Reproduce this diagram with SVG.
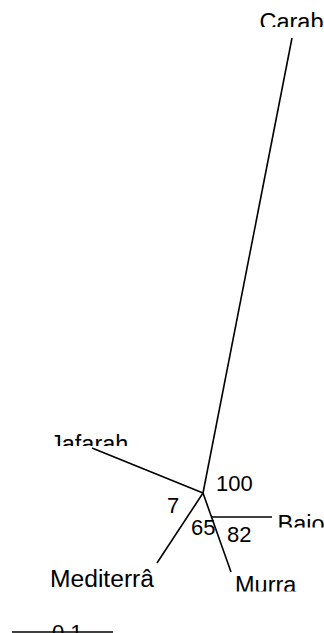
<svg xmlns="http://www.w3.org/2000/svg" width="324" height="633" viewBox="0 0 324 633">
<style>
.e{stroke:#000;stroke-width:1.6;fill:none;stroke-linecap:butt}
text{font-family:"Liberation Sans",Arial,sans-serif;font-size:22px;fill:#000}
.lbl{font-size:23.5px}
</style>
<defs>
<clipPath id="cCarab"><rect x="0" y="0" width="324" height="27"/></clipPath>
<clipPath id="cJaf"><rect x="0" y="420" width="324" height="26"/></clipPath>
<clipPath id="cBaio"><rect x="0" y="500" width="324" height="27.5"/></clipPath>
<clipPath id="cMurra"><rect x="0" y="560" width="324" height="31.5"/></clipPath>
</defs>
<rect width="324" height="633" fill="#fff"/>
<g id="connectors">
<line class="e" x1="292" y1="38" x2="203" y2="493"/>
<line class="e" x1="92" y1="448" x2="203" y2="493"/>
<line class="e" x1="203" y1="493" x2="157" y2="563"/>
<line class="e" x1="203" y1="493" x2="231" y2="572"/>
<line class="e" x1="211.5" y1="517" x2="272" y2="517"/>
<line class="e" x1="12" y1="632" x2="113" y2="632"/>
</g>
<g id="carab"><text class="lbl" x="259.5" y="29.5" clip-path="url(#cCarab)">Carab</text></g>
<g id="jafarah"><text class="lbl" x="50" y="452" clip-path="url(#cJaf)">Jafarah</text></g>
<g id="baio"><text class="lbl" x="277.5" y="532" clip-path="url(#cBaio)">Baio</text></g>
<g id="murra"><text class="lbl" x="235" y="593" clip-path="url(#cMurra)">Murra</text></g>
<g id="mediterra"><text class="lbl" x="50" y="586.5" textLength="104" lengthAdjust="spacingAndGlyphs">Mediterrâ</text></g>
<g id="support">
<text x="216" y="490.5">100</text>
<text x="167" y="513">7</text>
<text x="191" y="535">65</text>
<text x="227" y="541.5">82</text>
</g>
<g id="scale"><text x="52" y="639.5">0.1</text></g>
</svg>
